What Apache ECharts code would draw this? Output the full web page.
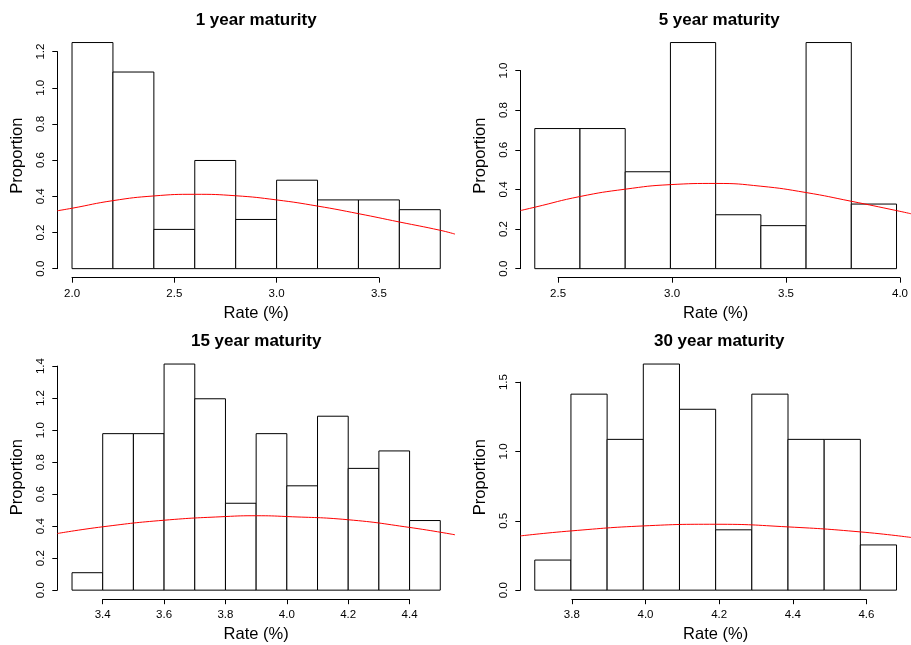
<!DOCTYPE html>
<html>
<head>
<meta charset="utf-8">
<script src="https://cdn.jsdelivr.net/npm/echarts@6/dist/echarts.min.js"></script>
<style>
  html, body { margin: 0; padding: 0; background: #fff; }
  #chart { width: 911px; height: 645px; }
</style>
</head>
<body>
<div id="chart"></div>
<script>
// panel titles
const titles = ["1 year maturity", "5 year maturity", "15 year maturity", "30 year maturity"];

// 1 year maturity
const breaks1 = [2.0, 2.2, 2.4, 2.6, 2.8, 3.0, 3.2, 3.4, 3.6, 3.8];
const dens1 = [1.25, 1.087, 0.217, 0.598, 0.272, 0.489, 0.38, 0.38, 0.326];
const curveX1 = [1.928, 2.0, 2.2, 2.4, 2.6, 2.8, 3.0, 3.2, 3.4, 3.6, 3.8, 3.872];
const curveY1 = [0.32, 0.334, 0.376, 0.402, 0.411, 0.403, 0.38, 0.346, 0.304, 0.258, 0.212, 0.191];
const xTicks1 = [2.0, 2.5, 3.0, 3.5];
const yTicks1 = [0.0, 0.2, 0.4, 0.6, 0.8, 1.0, 1.2];

// 5 year maturity
const breaks2 = [2.4, 2.6, 2.8, 3.0, 3.2, 3.4, 3.6, 3.8, 4.0];
const dens2 = [0.707, 0.707, 0.489, 1.141, 0.272, 0.217, 1.141, 0.326];
const curveX2 = [2.336, 2.4, 2.6, 2.8, 3.0, 3.2, 3.4, 3.6, 3.8, 4.0, 4.064];
const curveY2 = [0.293, 0.31, 0.364, 0.401, 0.424, 0.43, 0.416, 0.384, 0.34, 0.293, 0.277];
const xTicks2 = [2.5, 3.0, 3.5, 4.0];
const yTicks2 = [0.0, 0.2, 0.4, 0.6, 0.8, 1.0];

// 15 year maturity
const breaks3 = [3.3, 3.4, 3.5, 3.6, 3.7, 3.8, 3.9, 4.0, 4.1, 4.2, 4.3, 4.4, 4.5];
const dens3 = [0.109, 0.978, 0.978, 1.413, 1.196, 0.543, 0.978, 0.652, 1.087, 0.761, 0.87, 0.435];
const curveX3 = [3.252, 3.4, 3.6, 3.8, 3.9, 4.0, 4.2, 4.4, 4.548];
const curveY3 = [0.354, 0.396, 0.437, 0.46, 0.465, 0.46, 0.44, 0.392, 0.346];
const xTicks3 = [3.4, 3.6, 3.8, 4.0, 4.2, 4.4];
const yTicks3 = [0.0, 0.2, 0.4, 0.6, 0.8, 1.0, 1.2, 1.4];

// 30 year maturity
const breaks4 = [3.7, 3.8, 3.9, 4.0, 4.1, 4.2, 4.3, 4.4, 4.5, 4.6, 4.7];
const dens4 = [0.217, 1.413, 1.087, 1.63, 1.304, 0.435, 1.413, 1.087, 1.087, 0.326];
const curveX4 = [3.66, 3.8, 4.0, 4.2, 4.4, 4.6, 4.74];
const curveY4 = [0.391, 0.427, 0.463, 0.475, 0.456, 0.42, 0.38];
const xTicks4 = [3.8, 4.0, 4.2, 4.4, 4.6];
const yTicks4 = [0.0, 0.5, 1.0, 1.5];

const panels = [
  { breaks: breaks1, dens: dens1, cx: curveX1, cy: curveY1, xt: xTicks1, yt: yTicks1, left: 57.3, top: 33.5 },
  { breaks: breaks2, dens: dens2, cx: curveX2, cy: curveY2, xt: xTicks2, yt: yTicks2, left: 520.3, top: 33.5 },
  { breaks: breaks3, dens: dens3, cx: curveX3, cy: curveY3, xt: xTicks3, yt: yTicks3, left: 57.3, top: 355 },
  { breaks: breaks4, dens: dens4, cx: curveX4, cy: curveY4, xt: xTicks4, yt: yTicks4, left: 520.3, top: 355 },
];
const plotW = 397.7;
const plotH = 244.2;
const FONT = "'Liberation Sans', Arial, Helvetica, sans-serif";

var grids = [], xAxes = [], yAxes = [], series = [], titleList = [];

panels.forEach((p, i) => {
  // R style axis limits: data range padded by 4%
  const b0 = p.breaks[0], bn = p.breaks[p.breaks.length - 1];
  const xlim = [b0 - 0.04 * (bn - b0), bn + 0.04 * (bn - b0)];
  const top = Math.max(...p.dens);
  const ylim = [-0.04 * top, 1.04 * top];
  const xpx = v => p.left + ((v - xlim[0]) / (xlim[1] - xlim[0])) * plotW;
  const ypx = v => p.top + ((ylim[1] - v) / (ylim[1] - ylim[0])) * plotH;

  const g = grids.length;
  // plot region
  grids.push({ left: p.left, top: p.top, width: plotW, height: plotH });
  xAxes.push({
    gridIndex: g, type: "value", min: xlim[0], max: xlim[1],
    axisLine: { show: false }, axisTick: { show: false }, axisLabel: { show: false }, splitLine: { show: false },
    name: "Rate (%)", nameLocation: "middle", nameGap: 27,
    nameTextStyle: { color: "#000", fontSize: 16.5, fontFamily: FONT },
  });
  yAxes.push({
    gridIndex: g, type: "value", min: ylim[0], max: ylim[1],
    axisLine: { show: false }, axisTick: { show: false }, axisLabel: { show: false }, splitLine: { show: false },
    name: "Proportion", nameLocation: "middle", nameGap: 31,
    nameTextStyle: { color: "#000", fontSize: 16.5, fontFamily: FONT },
  });

  // x axis drawn only from first to last tick
  const xt0 = p.xt[0], xt1 = p.xt[p.xt.length - 1];
  grids.push({ left: xpx(xt0), top: p.top, width: xpx(xt1) - xpx(xt0), height: plotH });
  xAxes.push({
    gridIndex: g + 1, type: "value", min: xt0, max: xt1, interval: p.xt[1] - p.xt[0],
    axisLine: { show: true, lineStyle: { color: "#000", width: 1 } },
    axisTick: { show: true, length: 5, lineStyle: { color: "#000" } },
    axisLabel: { show: true, margin: 10, color: "#000", fontSize: 11.5, fontFamily: FONT, showMinLabel: true, showMaxLabel: true,
      formatter: v => v.toFixed(1) },
    splitLine: { show: false },
  });
  yAxes.push({ gridIndex: g + 1, type: "value", show: false });

  // y axis drawn only from 0 to last tick
  const yt1 = p.yt[p.yt.length - 1];
  grids.push({ left: p.left, top: ypx(yt1), width: 10, height: ypx(0) - ypx(yt1) });
  xAxes.push({ gridIndex: g + 2, type: "value", show: false });
  yAxes.push({
    gridIndex: g + 2, type: "value", min: 0, max: yt1, interval: p.yt[1] - p.yt[0],
    axisLine: { show: true, lineStyle: { color: "#000", width: 1 } },
    axisTick: { show: true, length: 5, lineStyle: { color: "#000" } },
    axisLabel: { show: true, rotate: 90, margin: 10, color: "#000", fontSize: 11.5, fontFamily: FONT, showMinLabel: true, showMaxLabel: true,
      formatter: v => v.toFixed(1) },
    splitLine: { show: false },
  });

  // histogram bars
  const bins = p.dens.map((d, k) => [p.breaks[k], p.breaks[k + 1], d]);
  series.push({
    type: "custom",
    xAxisIndex: g, yAxisIndex: g,
    data: bins,
    encode: { x: [0, 1], y: 2 },
    renderItem: (params, api) => {
      const a = api.coord([api.value(0), api.value(2)]);
      const b = api.coord([api.value(1), 0]);
      return {
        type: "rect",
        shape: { x: a[0], y: a[1], width: b[0] - a[0], height: b[1] - a[1] },
        style: { fill: "#fff", stroke: "#000", lineWidth: 1 },
      };
    },
  });

  // normal curve
  series.push({
    type: "line",
    xAxisIndex: g, yAxisIndex: g,
    data: p.cx.map((x, k) => [x, p.cy[k]]),
    smooth: true,
    showSymbol: false,
    clip: true,
    lineStyle: { color: "#ff0000", width: 1 },
    z: 5,
  });

  titleList.push({
    text: titles[i],
    left: p.left + plotW / 2,
    top: p.top - 22,
    textAlign: "center",
    padding: 0,
    textStyle: { color: "#000", fontSize: 17, fontWeight: "bold", fontFamily: FONT },
  });
});

var myChart = echarts.init(document.getElementById("chart"));
var option = {
  backgroundColor: "#fff",
  animation: false,
  title: titleList,
  grid: grids,
  xAxis: xAxes,
  yAxis: yAxes,
  series: series,
};
myChart.setOption(option);
</script>
</body>
</html>
